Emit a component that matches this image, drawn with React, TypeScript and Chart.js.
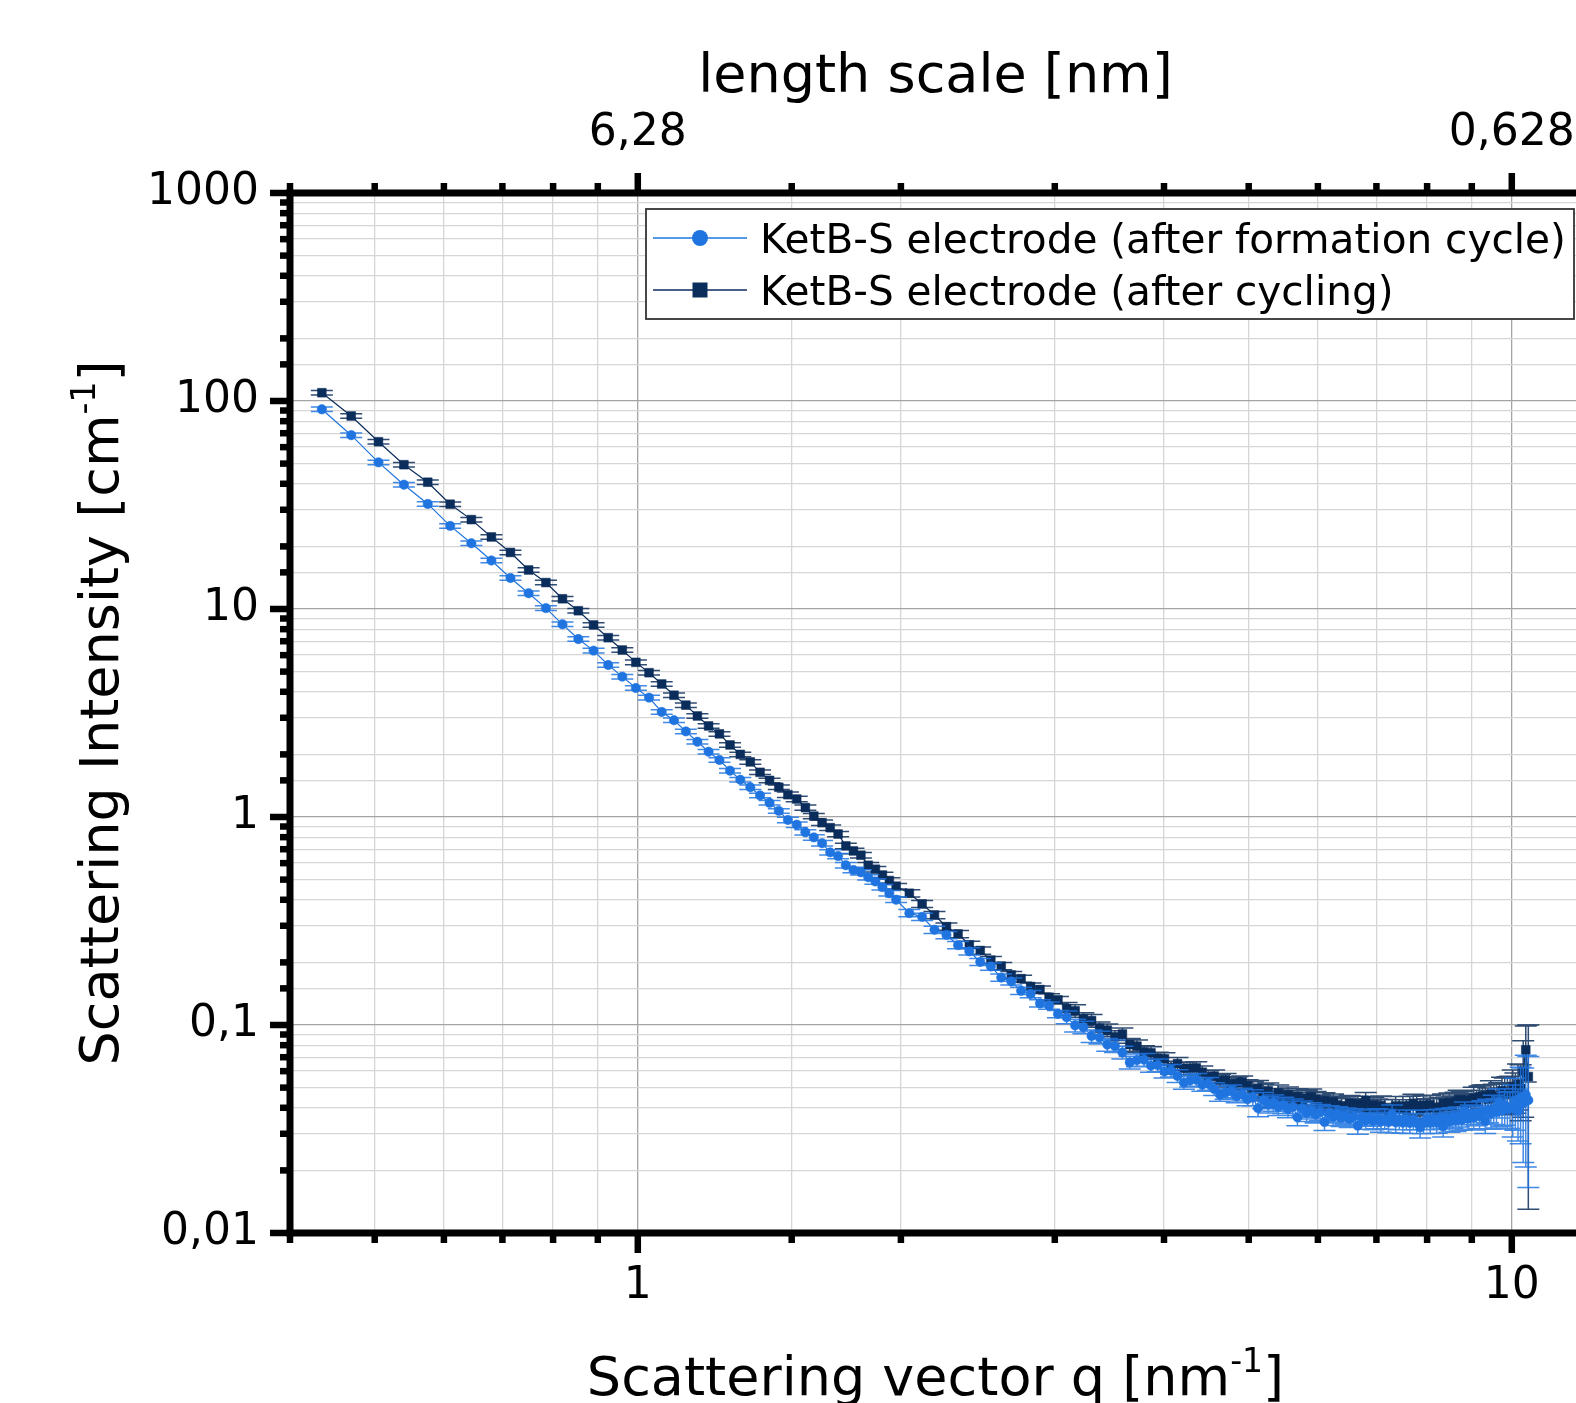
import React, { useEffect, useRef } from 'react';
import { Chart, registerables } from 'chart.js';

Chart.register(...registerables);

const FONT = '"DejaVu Sans", "Liberation Sans", sans-serif';

// Scattering vector q [nm^-1]
const qValues = [
  0.435, 0.47, 0.505, 0.54, 0.575, 0.61, 0.645, 0.68, 0.715, 0.75,
  0.785, 0.82, 0.855, 0.89, 0.925, 0.96, 0.995, 1.03, 1.065, 1.1,
  1.135, 1.17, 1.205, 1.24, 1.275, 1.31, 1.345, 1.38, 1.415, 1.45,
  1.485, 1.52, 1.555, 1.59, 1.625, 1.66, 1.695, 1.73, 1.765, 1.8,
  1.835, 1.87, 1.905, 1.94, 1.975,
  2.045, 2.115, 2.185, 2.255, 2.325, 2.395, 2.465, 2.535, 2.605, 2.675,
  2.745, 2.815, 2.885, 2.955, 3.025, 3.095, 3.165, 3.235, 3.305, 3.375,
  3.445, 3.515, 3.585, 3.655, 3.725, 3.795, 3.865, 3.935, 4.005, 4.075,
  4.145, 4.215, 4.285, 4.355, 4.425, 4.495, 4.565, 4.635, 4.705, 4.775,
  4.845, 4.915, 4.985, 5.055, 5.125, 5.195, 5.265, 5.335, 5.405, 5.475,
  5.545, 5.615, 5.685, 5.755, 5.825, 5.895, 5.965, 6.035, 6.105, 6.175,
  6.245, 6.315, 6.385, 6.455, 6.525, 6.595, 6.665, 6.735, 6.805, 6.875,
  6.945, 7.015, 7.085, 7.155, 7.225, 7.295, 7.365, 7.435, 7.505, 7.575,
  7.645, 7.715, 7.785, 7.855, 7.925, 7.995, 8.065, 8.135, 8.205, 8.275,
  8.345, 8.415, 8.485, 8.555, 8.625, 8.695, 8.765, 8.835, 8.905, 8.975,
  9.045, 9.115, 9.185, 9.255, 9.325, 9.395, 9.465, 9.535, 9.605, 9.675,
  9.745, 9.815, 9.885, 9.955, 10.025, 10.095, 10.165, 10.235, 10.305, 10.375,
  10.445,
];

// KetB-S electrode (after formation cycle), intensity [cm^-1]
const formationIntensity = [
  91.2, 68.5, 50.7, 39.6, 32.0, 25.1, 20.7, 17.1, 14.1, 11.9,
  10.1, 8.44, 7.17, 6.31, 5.38, 4.73, 4.17, 3.75, 3.2, 2.92,
  2.58, 2.3, 2.06, 1.88, 1.67, 1.51, 1.39, 1.27, 1.17, 1.07,
  0.968, 0.919, 0.844, 0.798, 0.748, 0.676, 0.649, 0.586, 0.556, 0.542,
  0.513, 0.49, 0.46, 0.43, 0.4,
  0.345, 0.331, 0.287, 0.271, 0.242, 0.226, 0.201, 0.191, 0.169, 0.162,
  0.146, 0.141, 0.127, 0.124, 0.113, 0.109, 0.0995, 0.0975, 0.0885, 0.0872,
  0.0805, 0.0792, 0.0738, 0.0661, 0.0678, 0.0681, 0.0638, 0.0641, 0.0598, 0.0604,
  0.0569, 0.0528, 0.0541, 0.0546, 0.0516, 0.0522, 0.0493, 0.0462, 0.0473, 0.0481,
  0.0455, 0.0464, 0.044, 0.0448, 0.0398, 0.0435, 0.0415, 0.0423, 0.0404, 0.0412,
  0.0394, 0.0404, 0.036, 0.0396, 0.0378, 0.0388, 0.0371, 0.0381, 0.0342, 0.0375,
  0.0361, 0.0371, 0.0357, 0.0366, 0.0353, 0.0363, 0.0328, 0.036, 0.0347, 0.0358,
  0.0345, 0.0356, 0.0343, 0.0354, 0.0341, 0.0372, 0.034, 0.0352, 0.0339, 0.0352,
  0.0338, 0.0351, 0.0338, 0.0322, 0.0337, 0.0352, 0.0338, 0.0353, 0.0339, 0.0355,
  0.0325, 0.0357, 0.0343, 0.036, 0.0346, 0.0363, 0.035, 0.0384, 0.0354, 0.0372,
  0.0359, 0.0377, 0.0364, 0.0383, 0.0346, 0.0389, 0.0375, 0.0396, 0.0381, 0.0425,
  0.0388, 0.0412, 0.0395, 0.0398, 0.0402, 0.0433, 0.0385, 0.0448, 0.042, 0.0462,
  0.0435,
];

// KetB-S electrode (after cycling), intensity [cm^-1]
const cyclingIntensity = [
  109.6, 84.7, 63.7, 49.4, 40.7, 31.9, 26.9, 22.2, 18.7, 15.4,
  13.4, 11.2, 9.81, 8.38, 7.28, 6.35, 5.54, 4.94, 4.36, 3.85,
  3.45, 3.06, 2.74, 2.51, 2.22, 2.0, 1.84, 1.64, 1.5, 1.39,
  1.28, 1.22, 1.11, 1.01, 0.939, 0.889, 0.828, 0.726, 0.687, 0.655,
  0.586, 0.561, 0.526, 0.495, 0.465,
  0.43, 0.382, 0.338, 0.297, 0.274, 0.243, 0.228, 0.205, 0.192, 0.174,
  0.167, 0.153, 0.148, 0.136, 0.132, 0.12, 0.117, 0.107, 0.105, 0.0965,
  0.0945, 0.0878, 0.0905, 0.0805, 0.0792, 0.0742, 0.0735, 0.0692, 0.0688, 0.0625,
  0.0652, 0.0619, 0.062, 0.0622, 0.0593, 0.0564, 0.0568, 0.0542, 0.0546, 0.0522,
  0.0527, 0.0532, 0.051, 0.0489, 0.0496, 0.0475, 0.0483, 0.0441, 0.0472, 0.0453,
  0.0462, 0.0444, 0.0453, 0.0436, 0.0446, 0.0452, 0.0439, 0.0423, 0.0433, 0.0418,
  0.0428, 0.0413, 0.0405, 0.0409, 0.042, 0.0405, 0.0417, 0.0402, 0.0434, 0.0399,
  0.0412, 0.0397, 0.041, 0.0395, 0.0378, 0.0394, 0.0408, 0.0394, 0.0408, 0.0394,
  0.0409, 0.0418, 0.041, 0.0396, 0.0412, 0.0398, 0.0414, 0.04, 0.0398, 0.0403,
  0.042, 0.0406, 0.0424, 0.041, 0.0428, 0.0438, 0.0433, 0.0418, 0.0438, 0.0423,
  0.0444, 0.0428, 0.045, 0.0455, 0.0457, 0.044, 0.0465, 0.0447, 0.0448, 0.0455,
  0.0483, 0.0463, 0.047, 0.0472, 0.0506, 0.0482, 0.052, 0.0495, 0.06, 0.076,
  0.0565,
];

// relative errors of the intensities [%]
const formationErrPct = [
  2.5, 2.5, 2.5, 2.5, 2.5, 2.5, 2.5, 2.5, 2.5, 2.5,
  2.5, 2.5, 2.5, 2.5, 2.5, 2.5, 2.5, 2.5, 2.5, 2.5,
  2.5, 2.5, 2.5, 2.5, 2.5, 2.5, 2.5, 2.5, 2.5, 2.5,
  3, 3, 3, 3, 3, 3, 3, 3, 3, 3,
  3, 3, 3, 3, 3,
  4, 4, 4, 4, 4, 4, 4, 4, 4, 4,
  4, 4, 4, 4, 4, 7, 7, 7, 7, 7,
  7, 7, 7, 7, 7, 7, 7, 7, 7, 7,
  7, 7, 7, 7, 7, 7, 7, 7, 7, 7,
  7, 7, 7, 9, 9, 9, 9, 9, 9, 9,
  9, 9, 9, 9, 9, 9, 9, 9, 9, 9,
  9, 9, 9, 9, 9, 9, 9, 9, 9, 9,
  9, 11, 11, 11, 11, 11, 11, 11, 11, 11,
  11, 11, 11, 11, 11, 11, 11, 11, 11, 11,
  11, 11, 11, 11, 11, 11, 11, 11, 11, 11,
  13, 13, 13, 13, 13, 13, 16, 16, 16, 16,
  16, 20, 20, 20, 28, 28, 28, 40, 48, 55,
  62,
];

const cyclingErrPct = [
  2.5, 2.5, 2.5, 2.5, 2.5, 2.5, 2.5, 2.5, 2.5, 2.5,
  2.5, 2.5, 2.5, 2.5, 2.5, 2.5, 2.5, 2.5, 2.5, 2.5,
  2.5, 2.5, 2.5, 2.5, 2.5, 2.5, 2.5, 2.5, 2.5, 2.5,
  3, 3, 3, 3, 3, 3, 3, 3, 3, 3,
  3, 3, 3, 3, 3,
  4, 4, 4, 4, 4, 4, 4, 4, 4, 4,
  4, 4, 4, 4, 4, 7, 7, 7, 7, 7,
  7, 7, 7, 7, 7, 7, 7, 7, 7, 7,
  7, 7, 7, 7, 7, 7, 7, 7, 7, 7,
  7, 7, 7, 9, 9, 9, 9, 9, 9, 9,
  9, 9, 9, 9, 9, 9, 9, 9, 9, 9,
  9, 9, 9, 9, 9, 9, 9, 9, 9, 9,
  9, 11, 11, 11, 11, 11, 11, 11, 11, 11,
  11, 11, 11, 11, 11, 11, 11, 11, 11, 11,
  11, 11, 11, 11, 11, 11, 11, 11, 11, 11,
  13, 13, 13, 13, 13, 13, 16, 16, 16, 16,
  16, 20, 20, 20, 20, 22, 25, 30, 40, 30,
  77,
];

const seriesLabels = [
  'KetB-S electrode (after formation cycle)',
  'KetB-S electrode (after cycling)',
];
const seriesColors = ['#1f74e0', '#0b2d5b'];

const yTickValues = [0.01, 0.1, 1, 10, 100, 1000];
const yTickLabels = ['0,01', '0,1', '1', '10', '100', '1000'];
const xTickValues = [1, 10];
const xTickLabels = ['1', '10'];
const topTickLabels = ['6,28', '0,628']; // length scale 2π/q [nm]

const xTitleParts: [string, boolean][] = [['Scattering vector q [nm', false], ['-1', true], [']', false]];
const yTitleParts: [string, boolean][] = [['Scattering Intensity [cm', false], ['-1', true], [']', false]];
const topTitleParts: [string, boolean][] = [['length scale [nm]', false]];

const CANVAS_W = 1600;
const CANVAS_H = 1403;
const PLOT_LEFT = 290;
const PLOT_TOP = 193;
const PLOT_BOTTOM = 1233;
const PLOT_RIGHT = 1581;
const MAJOR_GRID = '#a4a4a4';
const MINOR_GRID = '#d6d6d6';

const isDecade = (v: number) => Math.abs(Math.log10(v) - Math.round(Math.log10(v))) < 1e-6;

function labelFor(v: number, values: number[], labels: string[]) {
  for (let i = 0; i < values.length; i++) {
    if (Math.abs(Math.log10(v) - Math.log10(values[i])) < 1e-6) return labels[i];
  }
  return '';
}

function drawParts(ctx: CanvasRenderingContext2D, parts: [string, boolean][], cx: number, baseline: number, size: number) {
  const supSize = Math.round(size * 0.62);
  const widths = parts.map(([t, sup]) => {
    ctx.font = `${sup ? supSize : size}px ${FONT}`;
    return ctx.measureText(t).width;
  });
  const total = widths.reduce((a, b) => a + b, 0);
  let x = cx - total / 2;
  ctx.textAlign = 'left';
  ctx.textBaseline = 'alphabetic';
  parts.forEach(([t, sup], i) => {
    ctx.font = `${sup ? supSize : size}px ${FONT}`;
    ctx.fillText(t, x, sup ? baseline - size * 0.42 : baseline);
    x += widths[i];
  });
}

const noPad = (s: any) => {
  s.paddingLeft = 0;
  s.paddingRight = 0;
  s.paddingTop = 0;
  s.paddingBottom = 0;
};

const framePlugin = {
  id: 'frame',
  beforeDatasetDraw(chart: any, args: any) {
    const ds = chart.data.datasets[args.index];
    const errs: number[] = ds.errorBars;
    if (!errs) return;
    const ctx: CanvasRenderingContext2D = chart.ctx;
    const ca = chart.chartArea;
    const xs = chart.scales.x;
    const ys = chart.scales.y;
    const CAP = 11;
    ctx.save();
    ctx.beginPath();
    ctx.rect(ca.left, ca.top, ca.right - ca.left, ca.bottom - ca.top);
    ctx.clip();
    ctx.strokeStyle = ds.borderColor;
    ctx.globalAlpha = 0.85;
    ctx.lineWidth = 1.5;
    ctx.beginPath();
    ds.data.forEach((p: any, j: number) => {
      const px = xs.getPixelForValue(p.x);
      const t = ys.getPixelForValue(p.y + errs[j]);
      const b = ys.getPixelForValue(Math.max(p.y - errs[j], 1e-6));
      ctx.moveTo(px, t);
      ctx.lineTo(px, b);
      ctx.moveTo(px - CAP, t);
      ctx.lineTo(px + CAP, t);
      ctx.moveTo(px - CAP, b);
      ctx.lineTo(px + CAP, b);
    });
    ctx.stroke();
    ctx.restore();
  },
  afterDraw(chart: any) {
    const ctx: CanvasRenderingContext2D = chart.ctx;
    const ca = chart.chartArea;
    const AX = 7;
    const TW = 6.5;
    ctx.save();
    ctx.fillStyle = '#000';
    // frame
    ctx.fillRect(ca.left - AX / 2, ca.top - AX / 2, chart.width, AX);
    ctx.fillRect(ca.left - AX / 2, ca.bottom - AX / 2, chart.width, AX);
    ctx.fillRect(ca.left - AX / 2, ca.top - AX / 2, AX, ca.bottom - ca.top + AX);
    ctx.fillRect(ca.right - AX / 2, ca.top - AX / 2, AX, ca.bottom - ca.top + AX);
    // tick marks
    const xs = chart.scales.x;
    const xt = chart.scales.xTop;
    const ys = chart.scales.y;
    xs.ticks.forEach((t: any) => {
      const px = xs.getPixelForValue(t.value);
      const len = isDecade(t.value) ? 20 : 10;
      ctx.fillRect(px - TW / 2, ca.bottom, TW, len);
    });
    xt.ticks.forEach((t: any) => {
      const px = xt.getPixelForValue(t.value);
      const len = isDecade(t.value) ? 20 : 10;
      ctx.fillRect(px - TW / 2, ca.top - len, TW, len);
    });
    ys.ticks.forEach((t: any) => {
      const py = ys.getPixelForValue(t.value);
      const len = isDecade(t.value) ? 20 : 10;
      ctx.fillRect(ca.left - len, py - TW / 2, len, TW);
    });
    // axis titles
    const cx = (ca.left + ca.right) / 2;
    drawParts(ctx, xTitleParts, cx, 1395, 54);
    drawParts(ctx, topTitleParts, cx, 92, 54);
    ctx.save();
    ctx.translate(118, (ca.top + ca.bottom) / 2);
    ctx.rotate(-Math.PI / 2);
    drawParts(ctx, yTitleParts, 0, 0, 54);
    ctx.restore();
    // legend
    const lx = 646, ly = 209, lw = 928, lh = 110;
    ctx.fillStyle = '#fff';
    ctx.fillRect(lx, ly, lw, lh);
    ctx.strokeStyle = '#333';
    ctx.lineWidth = 1.8;
    ctx.strokeRect(lx, ly, lw, lh);
    const rows = [238, 290];
    chart.data.datasets.forEach((ds: any, i: number) => {
      const y = rows[i];
      ctx.strokeStyle = ds.borderColor;
      ctx.lineWidth = 1.5;
      ctx.beginPath();
      ctx.moveTo(653, y);
      ctx.lineTo(747, y);
      ctx.stroke();
      ctx.fillStyle = ds.backgroundColor;
      if (ds.pointStyle === 'rect') {
        ctx.fillRect(700 - 7.5, y - 7.5, 15, 15);
      } else {
        ctx.beginPath();
        ctx.arc(700, y, 8, 0, Math.PI * 2);
        ctx.fill();
      }
      ctx.fillStyle = '#000';
      ctx.font = `40.6px ${FONT}`;
      ctx.textAlign = 'left';
      ctx.textBaseline = 'alphabetic';
      ctx.fillText(ds.label, 760, y + 15);
    });
    ctx.restore();
  },
};

export default function App() {
  const canvasRef = useRef<HTMLCanvasElement | null>(null);

  useEffect(() => {
    const canvas = canvasRef.current;
    if (!canvas) return;
    const makeSet = (i: number, intens: number[], pct: number[], style: string, radius: number) => ({
      label: seriesLabels[i],
      data: qValues.map((q, j) => ({ x: q, y: intens[j] })),
      errorBars: intens.map((v, j) => (v * pct[j]) / 100),
      borderColor: seriesColors[i],
      backgroundColor: seriesColors[i],
      pointBackgroundColor: seriesColors[i],
      pointBorderColor: seriesColors[i],
      pointStyle: style,
      pointRadius: radius,
      pointBorderWidth: 0.5,
      borderWidth: 1.2,
      showLine: true,
      fill: false,
      tension: 0,
    });
    const tickFont = { family: FONT, size: 44 };
    const gridColor = (c: any) => (c.tick && isDecade(c.tick.value) ? MAJOR_GRID : MINOR_GRID);
    const chart = new Chart(canvas, {
      type: 'scatter',
      data: {
        datasets: [
          makeSet(0, formationIntensity, formationErrPct, 'circle', 4.7),
          makeSet(1, cyclingIntensity, cyclingErrPct, 'rect', 6.2),
        ] as any,
      },
      options: {
        responsive: false,
        animation: false,
        devicePixelRatio: 1,
        events: [],
        layout: { padding: { left: 0, top: 0, bottom: 0, right: CANVAS_W - PLOT_RIGHT } },
        plugins: { legend: { display: false }, tooltip: { enabled: false } },
        scales: {
          x: {
            type: 'logarithmic',
            position: 'bottom',
            min: 0.4,
            max: 12,
            afterFit: (s: any) => { s.height = CANVAS_H - PLOT_BOTTOM; noPad(s); },
            grid: { drawTicks: false, color: gridColor, lineWidth: 1.3 },
            border: { display: false },
            ticks: {
              autoSkip: false, maxRotation: 0, minRotation: 0, padding: 27,
              color: '#000', font: tickFont,
              callback: (v: any) => labelFor(Number(v), xTickValues, xTickLabels),
            },
          },
          xTop: {
            type: 'logarithmic',
            position: 'top',
            min: 0.4,
            max: 12,
            afterFit: (s: any) => { s.height = PLOT_TOP; noPad(s); },
            grid: { drawTicks: false, drawOnChartArea: false },
            border: { display: false },
            ticks: {
              autoSkip: false, maxRotation: 0, minRotation: 0, padding: 33,
              color: '#000', font: tickFont,
              callback: (v: any) => labelFor(Number(v), xTickValues, topTickLabels),
            },
          },
          y: {
            type: 'logarithmic',
            position: 'left',
            min: 0.01,
            max: 1000,
            afterFit: (s: any) => { s.width = PLOT_LEFT; noPad(s); },
            grid: { drawTicks: false, color: gridColor, lineWidth: 1.3 },
            border: { display: false },
            ticks: {
              autoSkip: false, padding: 31,
              color: '#000', font: tickFont,
              callback: (v: any) => labelFor(Number(v), yTickValues, yTickLabels),
            },
          },
        } as any,
      },
      plugins: [framePlugin as any],
    });
    return () => chart.destroy();
  }, []);

  return (
    <div style={{ position: 'fixed', left: 0, top: 0, width: 1576, height: 1403, overflow: 'hidden', background: '#fff' }}>
      <canvas ref={canvasRef} width={CANVAS_W} height={CANVAS_H} style={{ display: 'block', width: CANVAS_W, height: CANVAS_H }} />
    </div>
  );
}
